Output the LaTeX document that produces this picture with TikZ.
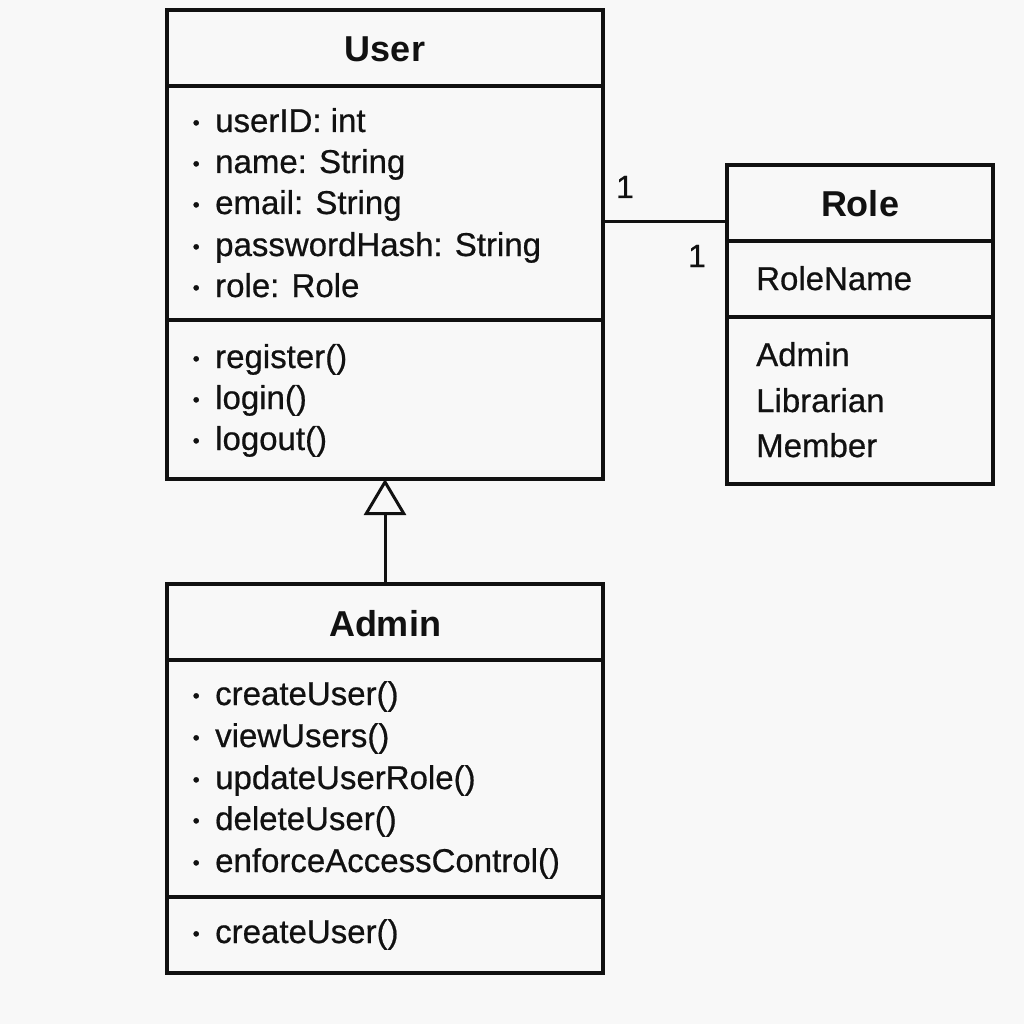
\documentclass[tikz,border=0pt]{standalone}
\usepackage{fontspec}
\setmainfont{Liberation Sans}
\newfontfamily\umlmed{Liberation Sans}[FakeBold=0.6]
\usetikzlibrary{arrows.meta}
\definecolor{bg}{RGB}{248,248,248}
\definecolor{ink}{RGB}{17,17,17}
\newcommand\umlbul{\llap{\raisebox{2.5pt}{\fontsize{20}{20}\selectfont •}\hspace{15.5pt}}}
\tikzset{
  classbox/.style={draw=ink, line width=3.3pt, fill=bg, rectangle, anchor=north west, inner sep=0pt, outer sep=0pt},
  divider/.style={draw=ink, line width=3.3pt},
  title/.style={font=\fontsize{36}{40}\selectfont\bfseries, text=ink, inner sep=0pt, anchor=base},
  item/.style={font=\fontsize{33}{40}\selectfont\umlmed, text=ink, inner sep=0pt, anchor=base west},
  mult/.style={font=\fontsize{32}{40}\selectfont\umlmed, text=ink, inner sep=0pt, anchor=base},
  link/.style={draw=ink, line width=3pt},
}
\begin{document}
\begin{tikzpicture}[x=1pt,y=-1pt]
\fill[bg] (0,0) rectangle (1024,1024);
\useasboundingbox (0,0) rectangle (1024,1024);

% ---- User ----
\node[classbox, minimum width=436pt, minimum height=469pt] (user) at (167,10) {};
\draw[divider] (user.west |- 0,86) -- (user.east |- 0,86);
\draw[divider] (user.west |- 0,320) -- (user.east |- 0,320);
\node[title] (usertitle) at (385,62) {User};
\node[item] (ua1) at (215,132) {\umlbul userID: int};
\node[item] (ua2) at (215,173) {\umlbul name: String};
\node[item] (ua3) at (215,214) {\umlbul email: String};
\node[item] (ua4) at (215,256) {\umlbul passwordHash: String};
\node[item] (ua5) at (215,297) {\umlbul role: Role};
\node[item] (um1) at (215,368) {\umlbul register()};
\node[item] (um2) at (215,409) {\umlbul login()};
\node[item] (um3) at (215,450) {\umlbul logout()};

% ---- Role ----
\node[classbox, minimum width=266pt, minimum height=319pt] (role) at (727,165) {};
\draw[divider] (role.west |- 0,241) -- (role.east |- 0,241);
\draw[divider] (role.west |- 0,317) -- (role.east |- 0,317);
\node[title] (roletitle) at (860,217) {Role};
\node[item] (r1) at (756,290) {RoleName};
\node[item] (r2) at (756,366) {Admin};
\node[item] (r3) at (756,412) {Librarian};
\node[item] (r4) at (756,457) {Member};

% ---- Admin ----
\node[classbox, minimum width=436pt, minimum height=389pt] (admin) at (167,584) {};
\draw[divider] (admin.west |- 0,660) -- (admin.east |- 0,660);
\draw[divider] (admin.west |- 0,897) -- (admin.east |- 0,897);
\node[title] (admintitle) at (385,636) {Admin};
\node[item] (am1) at (215,705) {\umlbul createUser()};
\node[item] (am2) at (215,747) {\umlbul viewUsers()};
\node[item] (am3) at (215,789) {\umlbul updateUserRole()};
\node[item] (am4) at (215,830) {\umlbul deleteUser()};
\node[item] (am5) at (215,872) {\umlbul enforceAccessControl()};
\node[item] (am6) at (215,943) {\umlbul createUser()};

% ---- Association ----
\coordinate (assoc) at (0,222);
\draw[link] (user.east |- assoc) -- (role.west |- assoc);
\node[mult] (m1) at (625,198) {1};
\node[mult] (m2) at (697,267) {1};

% ---- Generalization ----
\draw[link, -{Triangle[open, length=36pt, width=42pt, line width=3pt]}] (admin.north) -- (user.south);
\end{tikzpicture}
\end{document}
